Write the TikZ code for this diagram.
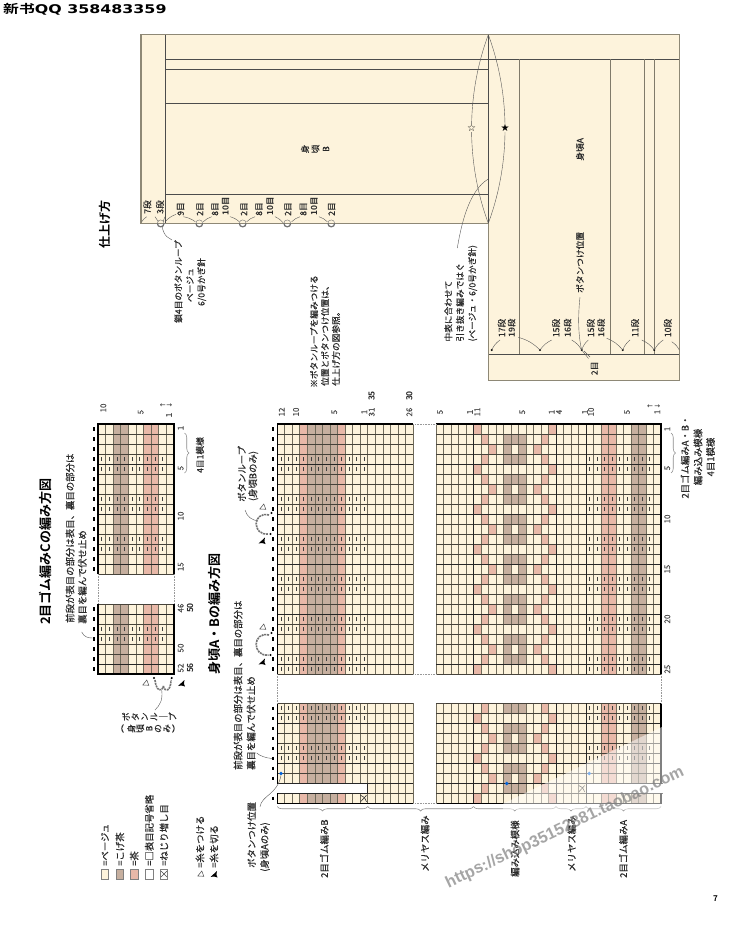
\documentclass[tikz,border=0pt]{standalone}
\usepackage{fontspec}
\setmainfont[FakeBold=0.2,BoldFont={Noto Sans CJK JP Bold},BoldFeatures={FakeBold=0}]{Noto Sans CJK JP}
\newfontfamily\scfont[BoldFont={Noto Sans CJK SC Bold}]{Noto Sans CJK SC}
\newfontfamily\djfont{DejaVu Sans}
\newfontfamily\libfont{Liberation Sans}
\usetikzlibrary{decorations.pathreplacing}
\definecolor{bg}{HTML}{FDF3DC}
\definecolor{cbrown}{HTML}{C6AF9F}
\definecolor{cpink}{HTML}{E8B8A8}
\definecolor{ink}{HTML}{2A2A2A}
\definecolor{gridv}{HTML}{6F6A5A}
\definecolor{gridh}{HTML}{46423A}
\definecolor{edge}{HTML}{8E8876}
\newcounter{tc}
\tikzset{
 lab/.style={rotate=90,inner sep=0pt,text=ink,font=\fontsize{9.4}{11}\selectfont},
 labs/.style={lab,font=\fontsize{8.7}{10}\selectfont},
 num/.style={lab,text=black!70,font=\fontsize{8}{9}\selectfont},
 numb/.style={lab,font=\fontsize{8.4}{9}\selectfont\bfseries},
 ttl/.style={lab,text=black,font=\fontsize{13}{15}\selectfont\bfseries},
 vl/.style={draw=gridv,line width=.95pt},
 hl/.style={draw=gridh,line width=.7pt},
 thick1/.style={draw=black!85,line width=1pt},
 edgeb/.style={draw=black,line width=1.5pt},
 edgeg/.style={draw=edge,line width=.9pt},
 pm/.style={draw=black!75,line width=.75pt},
 dashm/.style={draw=black,line width=1.7pt},
 lead/.style={draw=black!65,line width=.4pt},
 brc/.style={draw=black!45,line width=.55pt,decorate,decoration={brace,amplitude=4.5pt}},
 dotl/.style={draw=black!40,line width=.6pt,densely dotted},
 fline/.style={draw=black!70,line width=.8pt},
 aline/.style={draw=edge!90!black,line width=1pt},
 chain/.style={draw=black!55,line width=1.6pt,dash pattern=on 2pt off .8pt},
}
% text at (x,y)
\newcommand{\tx}[4][lab]{\stepcounter{tc}\node[#1,anchor=west] (t\arabic{tc}) at (#2,#3) {#4};}
\newcommand{\tc}[4][lab]{\stepcounter{tc}\node[#1] (t\arabic{tc}) at (#2,#3) {#4};}
% glyph stack: first x, step, y, glyph list
\newcommand{\vstack}[4]{\foreach \g [count=\gi from 0] in {#4} {\tc[labs]{{#1+#2*\gi}}{#3}{\g}}}
% grid: x0 x1 y0 y1 ncols nrows
\newcommand{\gridl}[6]{%
 \foreach \i in {0,...,#5} \draw[vl] ({#1+(#2-#1)*\i/#5},#3) -- ({#1+(#2-#1)*\i/#5},#4);
 \foreach \j in {0,...,#6} \draw[hl] (#1,{#3+(#4-#3)*\j/#6}) -- (#2,{#3+(#4-#3)*\j/#6});}
% right chart cell
\newcommand{\fc}[3]{\fill[#3] ({661-7.5*#1},#2) rectangle ({661-7.5*(#1-1)},{#2+10});}
\newcommand{\fairrow}[2]{%
 \pgfmathtruncatemacro\pp{mod(#2,4)}%
 \ifcase\pp
   \fc{25}{#1}{cpink}\fc{15}{#1}{cpink}%
 \or
   \fc{24}{#1}{cpink}\fc{16}{#1}{cpink}\fc{19}{#1}{cbrown}\fc{20}{#1}{cbrown}\fc{21}{#1}{cbrown}%
 \or
   \fc{23}{#1}{cpink}\fc{17}{#1}{cpink}\fc{19}{#1}{cbrown}\fc{21}{#1}{cbrown}%
 \or
   \fc{24}{#1}{cpink}\fc{16}{#1}{cpink}\fc{19}{#1}{cbrown}\fc{20}{#1}{cbrown}\fc{21}{#1}{cbrown}%
 \fi}
\newcommand{\wtri}[2]{\draw[black!70,fill=white,line width=.5pt] (#1-3.2,#2+2) -- (#1+2.8,#2+2.3) -- (#1+.8,#2-3) -- cycle;}
\newcommand{\btri}[2]{\fill[black] (#1-3.5,#2+3) -- (#1+3,#2-3) .. controls (#1+2.2,#2+1) .. (#1+3.5,#2+3.5) .. controls (#1,#2+2.2) .. cycle;}
\newcommand{\loopc}[1]{\draw[black!55,line width=.4pt] (#1,223.3) circle[radius=3.4];
 \draw[black!55,line width=1.2pt] (#1-3.4,223.3) .. controls (#1-3.4,228) and (#1+3.4,228) .. (#1+3.4,223.3);}
\begin{document}
\begin{tikzpicture}[x=1pt,y=-1pt]
\useasboundingbox (0,0) rectangle (750,928);
\fill[white] (0,0) rectangle (750,928);

% ---------- header / page number
\node[inner sep=0pt,anchor=west] (hdr) at (3,9) {\scalebox{1.32}[1]{\fontsize{12}{14}\selectfont\scfont\bfseries 新书\djfont\bfseries QQ 358483359}};
\node[inner sep=0pt] (pageno) at (715.5,899) {\fontsize{8}{9}\selectfont\bfseries 7};

% ---------- finishing plan
\fill[bg] (141,34.7) -- (679.3,34.7) -- (679.3,380.7) -- (488.3,380.7) -- (488.3,223.3) -- (141,223.3) -- cycle;
\foreach \yy in {69.3,103.3,194} \draw[fline] (165,\yy) -- (488.3,\yy);
\draw[fline] (165,59.3) -- (679.3,59.3);
\draw[fline] (488.3,354.3) -- (679.3,354.3);
\draw[fline] (165,34.7) -- (165,223.3);
\draw[fline] (488.3,34.7) -- (488.3,223.3);
\foreach \xx in {519.3,610.7,644,654} \draw[aline] (\xx,59.3) -- (\xx,354.3);
\draw[edgeg,line width=1.2pt] (141,34.7) -- (679.3,34.7) -- (679.3,380.7) -- (488.3,380.7) -- (488.3,223.3) -- (141,223.3) -- cycle;
% lens and stars
\draw[lead] (488.3,34.7) .. controls (466,95) and (466,163) .. (488.3,223.3);
\draw[lead] (488.3,34.7) .. controls (510.6,95) and (510.6,163) .. (488.3,223.3);
\node[inner sep=0pt,fill=bg,text=black] (starw) at (471.7,128) {\fontsize{10}{10}\selectfont\djfont ☆};
\node[inner sep=0pt,fill=bg] (starb) at (505,128) {\fontsize{10}{10}\selectfont\djfont ★};
\coordinate (seam) at (488.3,179);
\coordinate (seamt) at (457.3,248);
\draw[lead] (seam) .. controls (470,190) and (462,220) .. (seamt);
\tx[labs]{448.3}{341.7}{中表に合わせて}
\tx[labs]{460}{341.7}{引き抜き編みではぐ}
\tx[labs]{472.7}{341.7}{(ベージュ・6/0号かぎ針)}
% body labels
\vstack{305}{10.5}{149}{身,頃,B}
\tc[labs]{580}{149.3}{身頃A}
\tx[labs]{580}{293}{ボタンつけ位置}
\draw[lead] (580,297) .. controls (578,315) and (578,335) .. (581.7,350);
% B-row counts
\tc[labs]{147.3}{207}{7段}
\tc[labs]{160}{207}{3段}
\tc[labs]{180.7}{209}{9目}
\tc[labs]{200}{209}{2目}
\tc[labs]{215}{209}{8目}
\tc[numb]{225.7}{206}{10目}
\tc[labs]{244}{209}{2目}
\tc[labs]{259}{209}{8目}
\tc[numb]{270}{206}{10目}
\tc[labs]{288}{209}{2目}
\tc[labs]{303.3}{209}{8目}
\tc[numb]{314}{206}{10目}
\tc[labs]{331.7}{209}{2目}
\foreach \lx in {160.7,199.3,242.7,287.3,331.3} {\loopc{\lx}}
\foreach \a/\b/\c/\d in {141.7/221.7/146.7/216.7,155/216.7/158.3/221.7,165/216.7/163/221.7,
 165/221.7/176/214.3,183.3/216.7/195.3/221.7,203.3/221.7/211.7/216.7,230/216.7/239.3/221.7,
 246.7/221.7/255/216.7,275/216.7/283.3/223,291.7/221.7/300/216.7,319/216.7/327.3/221.7}
 \draw[lead] (\a,\b) to[bend left=12] (\c,\d);
\draw[lead] (162,226) .. controls (164,238) and (170,238) .. (172,240);
\tx[labs]{178.3}{323}{鎖4目のボタンループ}
\tc[labs]{190}{285}{ベージュ}
\tc[labs]{201.7}{282}{6/0号かぎ針}
\tc[ttl,font=\fontsize{12}{14}\selectfont\bfseries]{104.5}{224}{仕上げ方}
% A-row counts
\foreach \cx/\ct in {501.7/17段,556/15段,590.7/15段,635/11段,667.7/10段} {\tc[labs]{\cx}{328}{\ct}}
\foreach \cx/\ct in {511.7/19段,567.7/16段,601.3/16段} {\tc[numb]{\cx}{328}{\ct}}
\foreach \dx in {491.7,540,581.7,622.7,654.3} \fill[black] (\dx,350) circle[radius=1.1];
\foreach \a/\b/\c/\d in {491.7/350/500/340,518.3/337.3/540/350,540/350/551.7/340,571.7/340/581.7/350,
 581.7/350/588.3/340,606.7/338.3/622.7/350,622.7/350/630/340,641.7/340/654.3/350,654.3/350/663.3/340,671.7/341.7/679.3/350}
 \draw[lead] (\a,\b) to[bend left=14] (\c,\d);
\draw[lead] (581.7,350) -- (588.5,358.5);
\draw[lead] (584,351) -- (590,357);
\tc[labs]{594.5}{368.3}{2目}

% ---------- note
\tx[labs]{314}{388}{※ボタンループを編みつける}
\tx[labs]{325}{386}{位置とボタンつけ位置は、}
\tx[labs]{336}{386}{仕上げ方の図参照。}

% ---------- chart C
\tx[ttl]{45}{625}{2目ゴム編みCの編み方図}
\tx{70}{623}{前段が表目の部分は表目、裏目の部分は}
\tx{82.3}{624}{裏目を編んで伏せ止め}
\draw[lead] (81.7,632) .. controls (84,637) and (88,638) .. (92.5,638);
\fill[bg] (98,424) rectangle (174,574);
\fill[bg] (98,604) rectangle (174,674);
\foreach \ya/\yb in {424/574,604/674} {
 \fill[cbrown] (113.2,\ya) rectangle (128.4,\yb);
 \fill[cpink] (143.6,\ya) rectangle (158.8,\yb);
}
\gridl{98}{174}{424}{574}{10}{15}
\gridl{98}{174}{604}{674}{10}{7}
\foreach \yy in {464,514,564,614,664} \draw[thick1] (98,\yy) -- (174,\yy);
\foreach \r in {4,5,8,9,12,13} \foreach \c in {1,...,9}
 \draw[pm] ({98+7.6*\c-3.8},{424+10*\r-7}) -- ({98+7.6*\c-3.8},{424+10*\r-3});
\foreach \r in {3,4} \foreach \c in {1,...,9}
 \draw[pm] ({98+7.6*\c-3.8},{604+10*\r-7}) -- ({98+7.6*\c-3.8},{604+10*\r-3});
\draw[edgeb] (98,574) -- (98,424) -- (174,424) -- (174,574);
\draw[edgeb] (98,604) -- (98,674) -- (174,674) -- (174,604);
\draw[dotl] (98,574) -- (98,604);
\draw[dotl] (174,574) -- (174,604);
\foreach \r in {1,...,15} \draw[dashm] (94,{424+10*\r-6.8}) -- (94,{424+10*\r-3.2});
\foreach \r in {1,...,7} \draw[dashm] (94,{604+10*\r-6.8}) -- (94,{604+10*\r-3.2});
\tc[num]{103.3}{408}{10}
\tc[num]{140.7}{412}{5}
\tc[num]{169}{415}{1}
\tc[lab,rotate=-90,font=\fontsize{7}{7}\selectfont\djfont]{162.7}{406}{←}
\tc[lab,rotate=-90,font=\fontsize{7}{7}\selectfont\djfont]{169.3}{406}{→}
\foreach \ny/\nt in {428/1,468/5,516/10,566.7/15,608/46,648/50,668/52} {\tc[num]{180.7}{\ny}{\nt}}
\tc[numb]{190}{608}{50}
\tc[numb]{190}{668}{56}
\coordinate (bca) at (184.5,433);
\coordinate (bcb) at (184.5,473);
\draw[brc] (bca) -- (bcb);
\tc[labs]{200}{455}{4目1模様}
% loop C
\wtri{146}{683}
\btri{181.5}{683}
\fill (154,678) circle[radius=1.2];
\fill (171.7,678) circle[radius=1.2];
\draw[chain] (155,680) .. controls (156,691) and (162,693) .. (163.3,686);
\draw[chain] (163.3,686) .. controls (165,693) and (171,691) .. (171,680);
\draw[lead] (161.7,690) .. controls (163,700) and (160,705) .. (155,710);
\vstack{126}{9.3}{716.7}{ボ,タ,ン,ル,｜,プ}
\vstack{122.5}{8.9}{728.5}{︵,身,頃,B,の,み,︶}

% ---------- main chart heading and notes
\tx[ttl]{215}{675}{身頃A・Bの編み方図}
\tx{238}{770}{前段が表目の部分は表目、裏目の部分は}
\tx{251}{770}{裏目を編んで伏せ止め}
\draw[lead] (256.7,753) .. controls (260,756) and (266,758) .. (272,758.5);
\tx{241.7}{502}{ボタンループ}
\tc{253.3}{476}{(身頃Bのみ)}
\draw[lead] (245,510) .. controls (247,517) and (252,520) .. (258,521);

% ---------- main chart fills
\fill[bg] (277.3,424) rectangle (413.3,674);
\fill[bg] (436,424) rectangle (661,674);
\fill[bg] (277.3,703.3) rectangle (413.3,803.3);
\fill[bg] (436,703.3) rectangle (661,803.3);
\foreach \ya/\yb in {424/674,703.3/803.3} {
 \fill[cpink] (300,\ya) rectangle (307.6,\yb);
 \fill[cbrown] (307.6,\ya) rectangle (337.8,\yb);
 \fill[cpink] (337.8,\ya) rectangle (345.3,\yb);
 \fill[cpink] (601,\ya) rectangle (616,\yb);
 \fill[cbrown] (631,\ya) rectangle (646,\yb);
}
\foreach \r in {1,...,25} {\pgfmathsetmacro\yy{424+10*(\r-1)}\pgfmathtruncatemacro\ph{\r-1}\fairrow{\yy}{\ph}}
\foreach \r in {1,...,10} {\pgfmathsetmacro\yy{703.3+10*(\r-1)}\pgfmathtruncatemacro\ph{\r+2}\fairrow{\yy}{\ph}}
\gridl{277.3}{413.3}{424}{674}{18}{25}
\gridl{436}{661}{424}{674}{30}{25}
\gridl{277.3}{413.3}{703.3}{803.3}{18}{10}
\gridl{436}{661}{703.3}{803.3}{30}{10}
\foreach \yy in {464,514,564,614,664,723.3,763.3,783.3} {
 \draw[thick1] (277.3,\yy) -- (413.3,\yy);
 \draw[thick1] (436,\yy) -- (661,\yy);
}
\foreach \xx in {473.5,556,586} {
 \draw[thick1] (\xx,424) -- (\xx,674);
 \draw[thick1] (\xx,703.3) -- (\xx,803.3);
}
% purl marks
\foreach \r in {4,5,8,9,12,13,16,17,20,21,24,25} {
 \foreach \c in {1,...,12} \draw[pm] ({277.3+7.555*\c-3.78},{424+10*\r-7}) -- ({277.3+7.555*\c-3.78},{424+10*\r-3});
 \foreach \c in {2,...,10} \draw[pm] ({661-7.5*\c+3.75},{424+10*\r-7}) -- ({661-7.5*\c+3.75},{424+10*\r-3});
}
\foreach \r in {1,2,5,6} {
 \foreach \c in {1,...,12} \draw[pm] ({277.3+7.555*\c-3.78},{703.3+10*\r-7}) -- ({277.3+7.555*\c-3.78},{703.3+10*\r-3});
 \foreach \c in {2,...,10} \draw[pm] ({661-7.5*\c+3.75},{703.3+10*\r-7}) -- ({661-7.5*\c+3.75},{703.3+10*\r-3});
}
% blank row 9 of the lower part
\fill[white] (275,783.8) rectangle (367.7,793.3);
\fill[white] (586,783.8) rectangle (663,793.3);
\draw[thick1] (277.3,783.6) -- (367.7,783.6) -- (367.7,793.3) -- (277.3,793.3);
\draw[thick1] (663,783.6) -- (586,783.6) -- (586,793.3) -- (663,793.3);
% outer edges
\draw[edgeb] (277.3,674) -- (277.3,424) -- (413.3,424);
\draw[edgeb] (436,424) -- (661,424) -- (661,674);
\draw[edgeb] (277.3,703.3) -- (277.3,783.6);
\draw[edgeb] (277.3,793.3) -- (277.3,803.3) -- (413.3,803.3);
\draw[edgeb] (436,803.3) -- (661,803.3) -- (661,793.3);
\draw[edgeb] (661,783.6) -- (661,703.3);
\draw[dotl] (413.3,424) -- (436,424);
\draw[dotl] (413.3,674) -- (436,674);
\draw[dotl] (413.3,803.3) -- (436,803.3);
\draw[dotl] (277.3,674) -- (277.3,703.3);
\draw[dotl] (661,674) -- (661,703.3);
% dashes on the left
\foreach \r in {1,...,25} \draw[dashm] (273,{424+10*\r-6.8}) -- (273,{424+10*\r-3.2});
\foreach \r in {1,2,3,4,5,6,7,8,10} \draw[dashm] (273,{703.3+10*\r-6.8}) -- (273,{703.3+10*\r-3.2});
% twist marks
\foreach \tmx/\tmy in {363.5/798.3,581.7/788.5} {
 \draw[black!80,line width=.6pt] (\tmx-3,\tmy+3.5) -- (\tmx+3,\tmy-3);
 \draw[black!80,line width=.6pt] (\tmx-3,\tmy-3) .. controls (\tmx+1,\tmy-1) .. (\tmx+3,\tmy+3.5);
}
% blue dots
\fill[blue!55!cyan!85!black] (281,773.5) circle[radius=1.9];
\fill[blue!55!cyan!85!black] (589.3,773.5) circle[radius=1.9];
\fill[blue!55!cyan!85!black] (506.7,783.5) circle[radius=1.9];
% loops on main chart
\wtri{263}{627}
\btri{262}{661.5}
\fill (271.5,633) circle[radius=1.2];
\fill (270.5,655) circle[radius=1.2];
\draw[chain] (269,635) .. controls (252,631) and (252,657) .. (268.5,655);
\wtri{263}{507}
\btri{262}{540.5}
\fill (271.5,513) circle[radius=1.2];
\fill (270.5,534) circle[radius=1.2];
\draw[chain] (269,515) .. controls (252,511) and (252,536) .. (268.5,534);
% leader button position
\draw[lead] (260,806.7) .. controls (262,795) and (277,795) .. (281,775.5);

% top numbers
\foreach \nx/\nt in {281.7/12,296/10,334.3/5,364.3/1,371.7/31,409.3/26,440/5,470/1,477.3/11,522.3/5,551.7/1,559/4,585/1,591/10,627/5,657.3/1} {\tc[num]{\nx}{412}{\nt}}
\foreach \nx/\nt in {371.7/35,409.3/30} {\tc[numb]{\nx}{396}{\nt}}
\tc[lab,rotate=-90,font=\fontsize{7}{7}\selectfont\djfont]{650}{407}{←}
\tc[lab,rotate=-90,font=\fontsize{7}{7}\selectfont\djfont]{657.3}{407}{→}
% right numbers
\foreach \ny/\nt in {429/1,468/5,519/10,569/15,619/20,669/25} {\tc[num]{667.3}{\ny}{\nt}}
\coordinate (bra) at (671,433);
\coordinate (brb) at (671,473);
\draw[brc] (bra) -- (brb);
\tc{685}{457}{2目ゴム編みA・B・}
\tc{698}{457}{編み込み模様}
\tc{710.5}{457}{4目1模様}

% braces at the bottom
\foreach \ba/\bb in {367.7/277.3,473.5/367.7,556/473.5,586/556,661/586}
 \draw[brc] (\ba,806.5) -- (\bb,806.5);
\tx{324.3}{878}{2目ゴム編みB}
\tx{425}{872}{メリヤス編み}
\tx{515}{877}{編み込み模様}
\tx{571.7}{872}{メリヤス編み}
\tx{623.3}{878}{2目ゴム編みA}
\tx{251.7}{868}{ボタンつけ位置}
\tc{265}{847}{(身頃Aのみ)}

% ---------- legend
\foreach \sx/\sc/\st in {105/bg/=ベージュ,120/cbrown/=こげ茶,134.3/cpink/=茶,149.3/white/=□表目記号省略,164/white/=ねじり増し目} {
 \draw[black!50,fill=\sc,line width=.7pt] (\sx-3.8,869) rectangle (\sx+3.8,879);
 \tx{\sx}{866}{\st}
}
\draw[black!70,line width=.5pt] (145.8,843) -- (152.8,843);
\draw[black!70,line width=.5pt] (161,871) -- (167,877) (161,877) -- (167,871);
\tx{200}{868}{=糸をつける}
\tx{214}{868}{=糸を切る}
\wtri{201}{874}
\btri{214}{874}

% ---------- watermark
\fill[white,opacity=.5] (503,803.8) -- (664,726) -- (664,810) -- (503,810) -- cycle;
\node[inner sep=0pt,rotate=25.5,text=black!50,opacity=.7] (wm) at (565,828) {\fontsize{16.3}{20}\selectfont\libfont\bfseries https://shop35152881.taobao.com};
\end{tikzpicture}
\end{document}
